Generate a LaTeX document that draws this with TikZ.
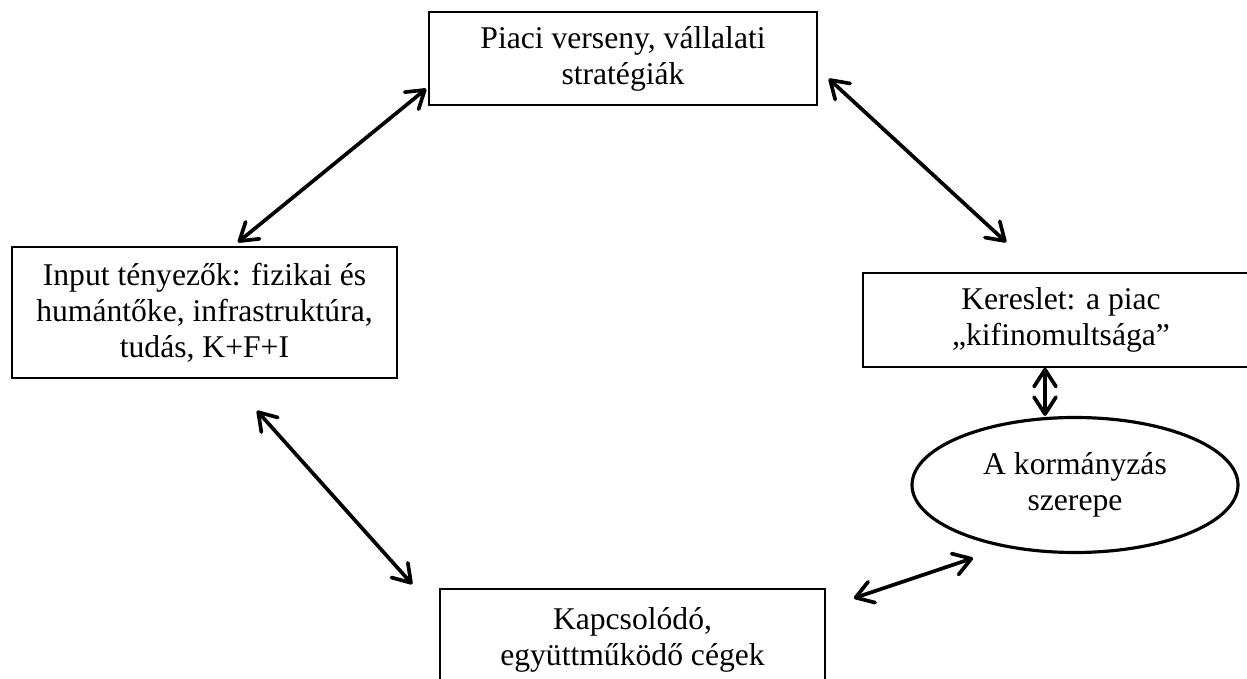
\documentclass[tikz,border=0pt]{standalone}
\usepackage{fontspec}
\setmainfont{Liberation Serif}
\usepackage{tikz}
\usetikzlibrary{arrows.meta,calc,shapes.geometric}

\begin{document}
\begin{tikzpicture}[
box/.style={draw,line width=0.9pt,align=center,inner sep=0pt,font=\fontsize{18}{20.5}\selectfont},
oval/.style={draw,ellipse,line width=1.8pt,align=center,inner sep=0pt,font=\fontsize{18}{20.5}\selectfont},
link/.style={line width=2.1pt,{Straight Barb[round,length=3.4mm,width=4.4mm]}-{Straight Barb[round,length=3.4mm,width=4.4mm]}}]
\useasboundingbox (0,0) rectangle (24.94,-13.58);
\clip (0,0) rectangle (24.94,-13.58);
\node[box,minimum width=7.76cm,minimum height=1.86cm] (verseny) at (12.46,-1.17) {Piaci verseny, vállalati\\stratégiák};
\node[box,minimum width=7.7cm,minimum height=2.62cm] (input) at (4.09,-6.25) {Input tényezők: fizikai és\\humántőke, infrastruktúra,\\tudás, K+F+I};
\node[box,minimum width=7.92cm,minimum height=1.88cm] (kereslet) at (21.22,-6.4) {Kereslet: a piac\\,,kifinomultsága''};
\node[oval,minimum width=6.52cm,minimum height=2.7cm] (kormany) at (21.5,-9.7) {A kormányzás\\szerepe};
\node[box,minimum width=7.7cm,minimum height=2.04cm] (cegek) at (12.65,-12.8) {Kapcsolódó,\\együttműködő cégek};
\draw[link] ($(verseny.south west)+(-0.04,0.34)$) -- ($(input.north)+(0.67,0.08)$);
\draw[link] ($(verseny.south east)+(0.22,0.54)$) -- ($(kereslet.north west)+(2.88,0.6)$);
\draw[link] ($(input.south)+(1.05,-0.64)$) -- ($(cegek.north west)+(-0.54,0.08)$);
\draw[link] ($(cegek.north east)+(0.56,-0.2)$) -- ($(kormany.south)+(-2.04,-0.08)$);
\draw[link] ($(kereslet.south)+(-0.32,0)$) -- ($(kormany.north)+(-0.6,0)$);
\end{tikzpicture}
\end{document}
